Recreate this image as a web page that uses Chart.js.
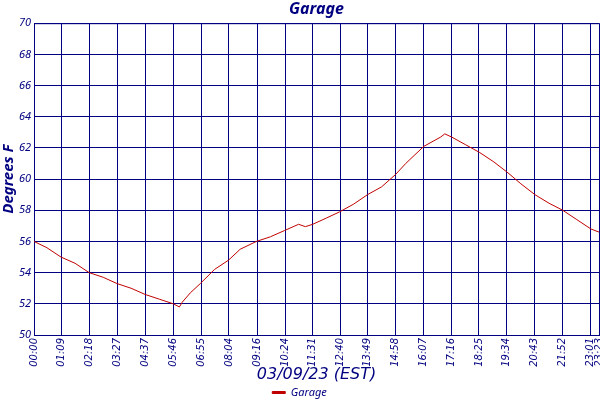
<!DOCTYPE html>
<html>
<head>
<meta charset="utf-8">
<script src="https://cdn.jsdelivr.net/npm/chart.js@4/dist/chart.umd.min.js"></script>
<style>
  html, body { margin: 0; padding: 0; background: #fff; }
  #wrap { width: 600px; height: 400px; }
</style>
</head>
<body>
<div id="wrap"><canvas id="garageChart" width="600" height="400"></canvas></div>
<script>
// minutes after midnight
const sampleMinutes = [0, 32, 67, 102, 137, 172, 206, 241, 276, 311, 346, 361, 368, 388, 413, 448, 483, 512, 552, 587, 622, 657, 674, 692, 726, 759, 794, 828, 863, 898, 923, 968, 1010, 1020, 1037, 1072, 1107, 1142, 1177, 1209, 1244, 1279, 1313, 1348, 1383, 1403];
const garageTemps = [56.0, 55.6, 55.0, 54.6, 54.0, 53.7, 53.3, 53.0, 52.6, 52.3, 52.0, 51.8, 52.1, 52.7, 53.3, 54.2, 54.8, 55.5, 56.0, 56.3, 56.7, 57.1, 56.95, 57.1, 57.5, 57.9, 58.4, 59.0, 59.5, 60.3, 61.0, 62.1, 62.7, 62.9, 62.7, 62.2, 61.7, 61.1, 60.4, 59.7, 59.0, 58.45, 58.0, 57.4, 56.8, 56.6];

// x axis tick positions (minutes) and their labels
const tickMinutes = [0, 69, 138, 207, 277, 346, 415, 484, 556, 624, 691, 760, 829, 898, 967, 1036, 1105, 1174, 1243, 1312, 1381, 1403];
const tickLabels = ['00:00', '01:09', '02:18', '03:27', '04:37', '05:46', '06:55', '08:04', '09:16', '10:24', '11:31', '12:40', '13:49', '14:58', '16:07', '17:16', '18:25', '19:34', '20:43', '21:52', '23:01', '23:23'];

const navy = '#000080';
const lineRed = '#c00000';
const noto = '"Noto Sans", "DejaVu Sans", sans-serif';
const dejavu = '"DejaVu Sans", sans-serif';

document.addEventListener('DOMContentLoaded', () => {
  initGarageChart();
});

function initGarageChart() {
  const ctx = document.getElementById('garageChart');
  if (!ctx) return;

  const points = sampleMinutes.map((m, i) => ({ x: m, y: garageTemps[i] }));

  new Chart(ctx, {
    type: 'line',
    data: {
      datasets: [{
        label: 'Garage',
        data: points,
        borderColor: lineRed,
        backgroundColor: lineRed,
        borderWidth: 1,
        pointRadius: 0,
        tension: 0
      }]
    },
    options: {
      responsive: false,
      animation: false,
      // legend box carries extra blank space at its bottom, let it run off the canvas
      layout: { padding: { left: 0, right: 1, top: 0, bottom: -8 } },
      plugins: {
        title: {
          display: true,
          fullSize: false, // centre over the plot, not the canvas
          text: 'Garage',
          color: navy,
          font: { family: noto, size: 16, style: 'italic', weight: 'bold' },
          padding: { top: 0, bottom: 4 }
        },
        legend: {
          position: 'bottom',
          labels: {
            color: navy,
            boxWidth: 13,
            boxHeight: 2,
            padding: 1,
            font: { family: noto, size: 11, style: 'italic' }
          }
        },
        tooltip: { enabled: false }
      },
      scales: {
        x: {
          type: 'linear',
          min: 0,
          max: 1403,
          afterBuildTicks: (scale) => {
            scale.ticks = tickMinutes.map(v => ({ value: v }));
          },
          afterFit: (scale) => {
            scale.height = 51;
            scale.paddingLeft = 0;
            scale.paddingRight = 0;
          },
          grid: { color: navy, lineWidth: 1, drawTicks: false },
          border: { color: navy, width: 1 },
          ticks: {
            autoSkip: false,
            minRotation: 90,
            maxRotation: 90,
            padding: 3,
            color: navy,
            font: { family: dejavu, size: 10, style: 'italic' },
            callback: (value, index) => tickLabels[index]
          },
          title: {
            display: true,
            text: '03/09/23 (EST)',
            color: navy,
            padding: { top: 0, bottom: 2 },
            font: { family: dejavu, size: 16, style: 'italic' }
          }
        },
        y: {
          min: 50,
          max: 70,
          afterFit: (scale) => { scale.width = 34; },
          grid: { color: navy, lineWidth: 1, drawTicks: false },
          border: { color: navy, width: 1 },
          ticks: {
            stepSize: 2,
            padding: 3,
            color: navy,
            font: { family: noto, size: 11, style: 'italic' }
          },
          title: {
            display: true,
            text: 'Degrees F',
            color: navy,
            padding: { top: 0, bottom: 0 },
            font: { family: noto, size: 15, style: 'italic', weight: 'bold' }
          }
        }
      }
    },
    plugins: [{
      id: 'topBorder',
      afterDraw(chart) {
        const { ctx, chartArea } = chart;
        ctx.save();
        ctx.strokeStyle = navy;
        ctx.lineWidth = 1;
        ctx.beginPath();
        ctx.moveTo(chartArea.left, chartArea.top + 0.5);
        ctx.lineTo(chartArea.right, chartArea.top + 0.5);
        ctx.stroke();
        ctx.restore();
      }
    }]
  });
}
</script>
</body>
</html>
